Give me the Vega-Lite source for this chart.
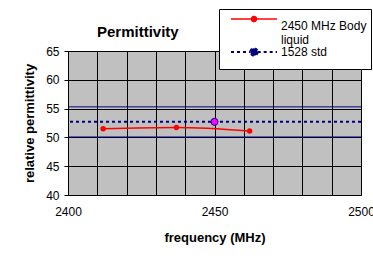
{
  "$schema": "https://vega.github.io/schema/vega-lite/v6.json",
  "width": 293,
  "height": 144,
  "autosize": {"type": "none"},
  "padding": {"left": 68, "top": 51, "right": 12, "bottom": 66},
  "background": "white",
  "title": {
    "text": "Permittivity",
    "anchor": "start",
    "frame": "group",
    "dx": 29,
    "offset": -43,
    "baseline": "alphabetic",
    "font": "Liberation Sans",
    "fontSize": 15,
    "fontWeight": "bold",
    "color": "black"
  },
  "datasets": {
    "body": [
      {"frequency": 2412, "permittivity": 51.5, "series": "2450 MHz Body liquid"},
      {"frequency": 2437, "permittivity": 51.7, "series": "2450 MHz Body liquid"},
      {"frequency": 2462, "permittivity": 51.1, "series": "2450 MHz Body liquid"}
    ],
    "std": [
      {"frequency": 2450, "permittivity": 52.7, "series": "1528 std"}
    ],
    "limits": [
      {"permittivity": 55.3, "bound": "upper"},
      {"permittivity": 50.07, "bound": "lower"}
    ]
  },
  "config": {
    "font": "Liberation Sans",
    "view": {"fill": "#c0c0c0", "stroke": null},
    "axis": {
      "domainColor": "black",
      "tickColor": "black",
      "gridColor": "black",
      "gridOpacity": 1,
      "gridWidth": 1,
      "labelColor": "black",
      "labelFontSize": 12,
      "labelFont": "Liberation Sans",
      "titleColor": "black",
      "titleFont": "Liberation Sans",
      "titleFontSize": 13,
      "titleFontWeight": "bold",
      "tickSize": 4
    },
    "axisX": {
      "values": [2400, 2410, 2420, 2425, 2430, 2440, 2450, 2460, 2470, 2475, 2480, 2490, 2500],
      "format": "d",
      "labelExpr": "datum.value % 25 === 0 ? datum.label : ''",
      "tickOpacity": {"condition": {"test": "datum.value % 25 === 0", "value": 1}, "value": 0},
      "labelPadding": 7,
      "titlePadding": 14,
      "labelFlush": false,
      "labelOverlap": false
    },
    "axisY": {
      "values": [40, 45, 50, 55, 60, 65],
      "labelPadding": 5,
      "titlePadding": 9,
      "labelOverlap": false
    }
  },
  "layer": [
    {
      "data": {"name": "limits"},
      "mark": {"type": "rule", "color": "#000080", "strokeWidth": 1},
      "encoding": {
        "y": {"field": "permittivity", "type": "quantitative", "title": "relative permittivity", "scale": {"domain": [40, 65], "nice": false}}
      }
    },
    {
      "data": {"name": "std"},
      "mark": {"type": "rule", "strokeDash": [3, 3], "strokeWidth": 2},
      "encoding": {
        "y": {"field": "permittivity", "type": "quantitative", "title": "relative permittivity", "scale": {"domain": [40, 65], "nice": false}},
        "color": {
          "field": "series",
          "type": "nominal",
          "scale": {"domain": ["2450 MHz Body liquid", "1528 std"], "range": ["#ff0000", "#000080"]},
          "legend": {
            "title": null,
            "orient": "none",
            "legendX": 151,
            "legendY": -42,
            "symbolType": "M-1,0H-0.11M0.11,0H1M0.11,0A0.11,0.11 0 1,1 -0.11,0A0.11,0.11 0 1,1 0.11,0",
            "symbolSize": 2116,
            "symbolOffset": 25,
            "symbolStrokeWidth": 1.5,
            "labelFontSize": 12,
            "labelFont": "Liberation Sans",
            "labelColor": "black",
            "labelOffset": 21,
            "labelLimit": 200,
            "labelExpr": "datum.label == '2450 MHz Body liquid' ? ['2450 MHz Body  ', 'liquid'] : datum.label",
            "fillColor": "white",
            "strokeColor": "black",
            "padding": 4,
            "rowPadding": -6,
            "encode": {
              "symbols": {
                "update": {
                  "shape": {"signal": "datum.value === '1528 std' ? 'M-1,0H-0.16M0.16,0H1M0.16,0A0.16,0.16 0 1,1 -0.16,0A0.16,0.16 0 1,1 0.16,0M0,0.36' : 'M-1,0H-0.11M0.11,0H1M0.11,0A0.11,0.11 0 1,1 -0.11,0A0.11,0.11 0 1,1 0.11,0'"},
                  "fill": {"signal": "datum.value === '1528 std' ? '#ff00ff' : '#ff0000'"},
                  "strokeDash": {"signal": "datum.value === '1528 std' ? [3, 3] : [1, 0]"},
                  "strokeWidth": {"signal": "datum.value === '1528 std' ? 2 : 1.5"}
                }
              },
              "labels": {
                "update": {
                  "lineHeight": {"value": 14},
                  "dy": {"signal": "datum.value === '1528 std' ? 0 : 7"}
                }
              }
            }
          }
        }
      }
    },
    {
      "data": {"name": "body"},
      "mark": {"type": "line", "interpolate": "monotone", "strokeWidth": 1.5, "point": {"filled": true, "size": 30}},
      "encoding": {
        "x": {"field": "frequency", "type": "quantitative", "title": "frequency (MHz)", "scale": {"domain": [2400, 2500], "nice": false}},
        "y": {"field": "permittivity", "type": "quantitative", "title": "relative permittivity", "scale": {"domain": [40, 65], "nice": false}},
        "color": {"field": "series", "type": "nominal"}
      }
    },
    {
      "data": {"name": "std"},
      "mark": {"type": "point", "filled": true, "fill": "#ff00ff", "stroke": "#000080", "strokeWidth": 1, "size": 50, "opacity": 1},
      "encoding": {
        "x": {"field": "frequency", "type": "quantitative", "title": "frequency (MHz)", "scale": {"domain": [2400, 2500], "nice": false}},
        "y": {"field": "permittivity", "type": "quantitative", "title": "relative permittivity", "scale": {"domain": [40, 65], "nice": false}}
      }
    }
  ]
}
